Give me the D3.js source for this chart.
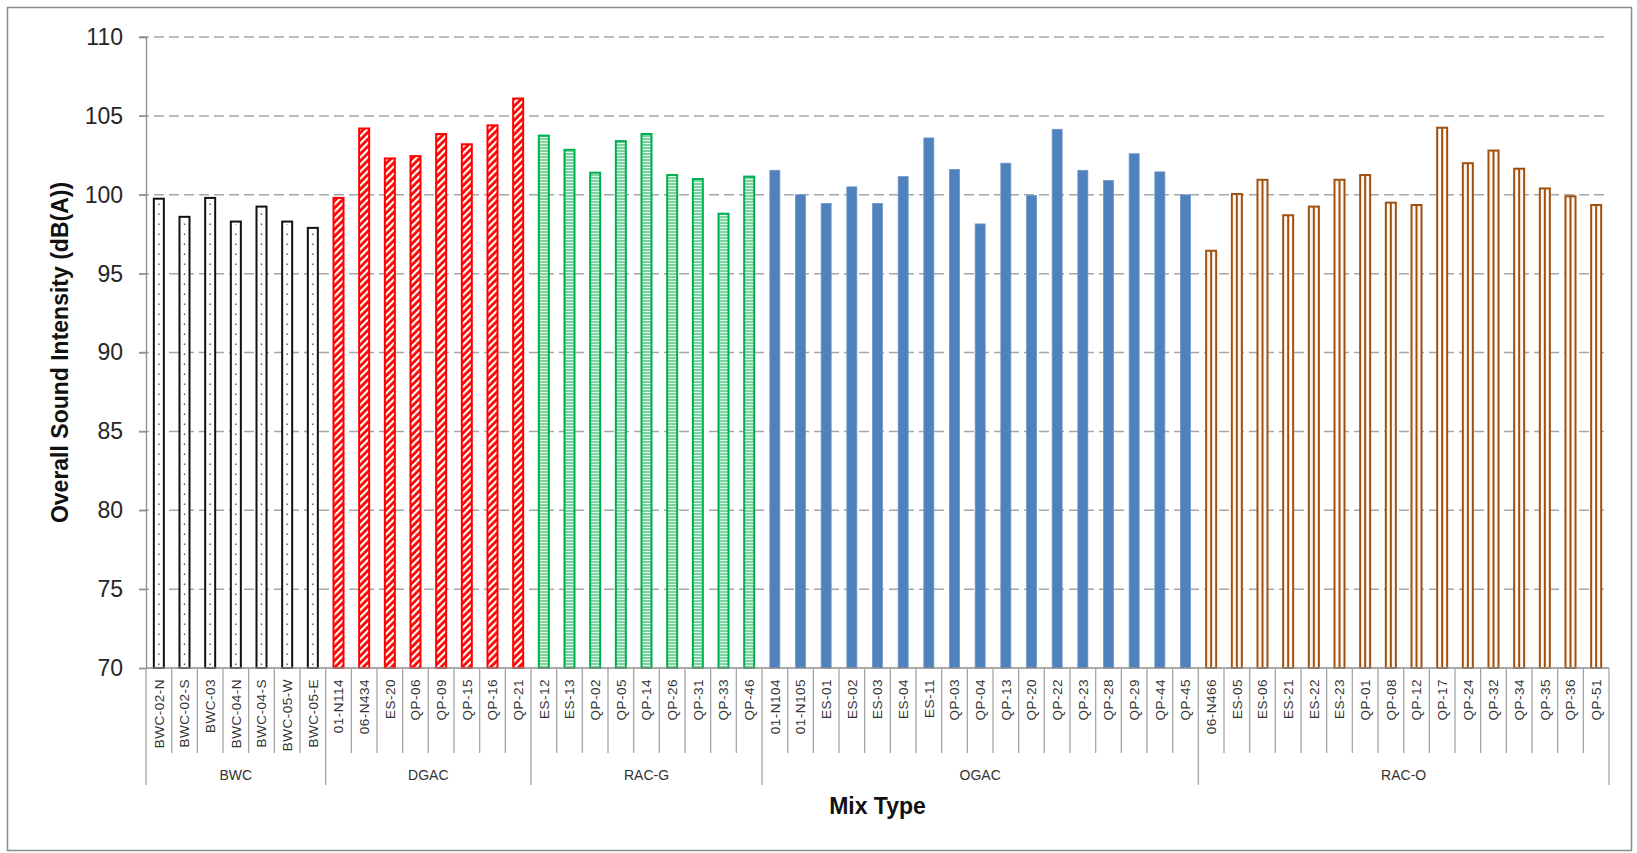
<!DOCTYPE html>
<html>
<head>
<meta charset="utf-8">
<script src="https://cdn.jsdelivr.net/npm/d3@7/dist/d3.min.js"></script>
<style>
  html, body { margin: 0; padding: 0; background: #fff; }
  svg { display: block; }
</style>
</head>
<body>
<svg id="chart" width="1637" height="853"></svg>
<script>
// ---------------- DATA ----------------
const groupNames = ["BWC", "DGAC", "RAC-G", "OGAC", "RAC-O"];

const bwcLabels = ["BWC-02-N", "BWC-02-S", "BWC-03", "BWC-04-N", "BWC-04-S", "BWC-05-W", "BWC-05-E"];
const bwcValues = [99.75, 98.6, 99.8, 98.3, 99.25, 98.3, 97.9];

const dgacLabels = ["01-N114", "06-N434", "ES-20", "QP-06", "QP-09", "QP-15", "QP-16", "QP-21"];
const dgacValues = [99.8, 104.2, 102.3, 102.45, 103.85, 103.2, 104.4, 106.1];

const racgLabels = ["ES-12", "ES-13", "QP-02", "QP-05", "QP-14", "QP-26", "QP-31", "QP-33", "QP-46"];
const racgValues = [103.75, 102.85, 101.4, 103.4, 103.85, 101.25, 101.0, 98.8, 101.15];

const ogacLabels = ["01-N104", "01-N105", "ES-01", "ES-02", "ES-03", "ES-04", "ES-11", "QP-03", "QP-04",
                    "QP-13", "QP-20", "QP-22", "QP-23", "QP-28", "QP-29", "QP-44", "QP-45"];
const ogacValues = [101.55, 100.0, 99.45, 100.5, 99.45, 101.15, 103.6, 101.6, 98.15,
                    102.0, 99.95, 104.15, 101.55, 100.9, 102.6, 101.45, 100.0];

const racoLabels = ["06-N466", "ES-05", "ES-06", "ES-21", "ES-22", "ES-23", "QP-01", "QP-08", "QP-12",
                    "QP-17", "QP-24", "QP-32", "QP-34", "QP-35", "QP-36", "QP-51"];
const racoValues = [96.45, 100.05, 100.95, 98.7, 99.25, 100.95, 101.25, 99.5, 99.35,
                    104.25, 102.0, 102.8, 101.65, 100.4, 99.9, 99.35];

const yTicks = [70, 75, 80, 85, 90, 95, 100, 105, 110];
const yTitle = "Overall Sound Intensity (dB(A))";
const xTitle = "Mix Type";

// ---------------- BUILD ----------------
const groupLabels = [bwcLabels, dgacLabels, racgLabels, ogacLabels, racoLabels];
const groupValues = [bwcValues, dgacValues, racgValues, ogacValues, racoValues];
const rows = [];
groupNames.forEach((g, gi) => {
  groupLabels[gi].forEach((lab, i) => {
    rows.push({ group: g, label: lab, value: groupValues[gi][i], key: g + "|" + lab });
  });
});

const svg = d3.select("#chart");
const W = 1637, H = 853;
const plot = { left: 146, right: 1609, top: 37, bottom: 668 };

const x = d3.scaleBand()
  .domain(rows.map(d => d.key))
  .range([plot.left, plot.right])
  .paddingInner(0.61)
  .paddingOuter(0.305);

const y = d3.scaleLinear()
  .domain([70, 110])
  .range([plot.bottom, plot.top]);

// outer border
svg.append("rect")
  .attr("x", 7.5).attr("y", 7.5)
  .attr("width", 1624).attr("height", 843)
  .attr("fill", "#fff")
  .attr("stroke", "#8c8c8c")
  .attr("stroke-width", 1.5);

// patterns
const defs = svg.append("defs");
const pDg = defs.append("pattern")
  .attr("id", "pDGAC")
  .attr("patternUnits", "userSpaceOnUse")
  .attr("width", 5).attr("height", 5)
  .attr("patternTransform", "rotate(45)");
pDg.append("rect").attr("width", 5).attr("height", 5).attr("fill", "#ff0000");
pDg.append("rect").attr("x", 0).attr("width", 2.2).attr("height", 5).attr("fill", "#ffffff");

const pRg = defs.append("pattern")
  .attr("id", "pRACG")
  .attr("patternUnits", "userSpaceOnUse")
  .attr("width", 4).attr("height", 3);
pRg.append("rect").attr("width", 4).attr("height", 3).attr("fill", "#7dd3a0");
pRg.append("rect").attr("y", 2).attr("width", 4).attr("height", 1).attr("fill", "#e4f6eb");

// gridlines (dashed)
svg.append("g")
  .selectAll("line")
  .data(yTicks.filter(t => t !== 70))
  .join("line")
  .attr("x1", plot.left - 7).attr("x2", plot.right)
  .attr("y1", d => y(d)).attr("y2", d => y(d))
  .attr("stroke", "#a6a6a6")
  .attr("stroke-width", 1.5)
  .attr("stroke-dasharray", "10,5");

// bars
const styles = {
  "BWC":   { fill: "#ffffff", stroke: "#111111", sw: 2 },
  "DGAC":  { fill: "url(#pDGAC)", stroke: "#ff0000", sw: 2 },
  "RAC-G": { fill: "url(#pRACG)", stroke: "#00b050", sw: 2 },
  "OGAC":  { fill: "#4f81bd", stroke: "#6f97c8", sw: 0.8 },
  "RAC-O": { fill: "#fdf8f3", stroke: "#a0500f", sw: 2 }
};

const barG = svg.append("g");
barG.selectAll("rect")
  .data(rows)
  .join("rect")
  .attr("x", d => x(d.key))
  .attr("y", d => y(d.value))
  .attr("width", x.bandwidth())
  .attr("height", d => y(70) - y(d.value))
  .attr("fill", d => styles[d.group].fill)
  .attr("stroke", d => styles[d.group].stroke)
  .attr("stroke-width", d => styles[d.group].sw);

// BWC dotted centre
barG.append("g").selectAll("line")
  .data(rows.filter(d => d.group === "BWC"))
  .join("line")
  .attr("x1", d => x(d.key) + x.bandwidth() / 2)
  .attr("x2", d => x(d.key) + x.bandwidth() / 2)
  .attr("y1", d => y(70) - 3)
  .attr("y2", d => y(d.value) + 3)
  .attr("stroke", "#555")
  .attr("stroke-width", 1.4)
  .attr("stroke-dasharray", "1.4,8.6");

// RAC-O vertical centre line
barG.append("g").selectAll("line")
  .data(rows.filter(d => d.group === "RAC-O"))
  .join("line")
  .attr("x1", d => x(d.key) + x.bandwidth() / 2)
  .attr("x2", d => x(d.key) + x.bandwidth() / 2)
  .attr("y1", d => y(70))
  .attr("y2", d => y(d.value))
  .attr("stroke", "#a0500f")
  .attr("stroke-width", 2);

// y axis
const yAxis = d3.axisLeft(y).tickValues(yTicks).tickSize(7).tickPadding(16);
const yg = svg.append("g").attr("transform", `translate(${plot.left},0)`).call(yAxis);
yg.select(".domain").attr("stroke", "#8c8c8c").attr("stroke-width", 1.3);
yg.selectAll(".tick line").attr("stroke", "#8c8c8c").attr("stroke-width", 1.3);
yg.selectAll(".tick text")
  .attr("font-family", "'Liberation Sans', Arial, sans-serif")
  .attr("font-size", 23)
  .attr("fill", "#262626");

// x axis baseline
svg.append("line")
  .attr("x1", plot.left).attr("x2", plot.right)
  .attr("y1", plot.bottom).attr("y2", plot.bottom)
  .attr("stroke", "#8c8c8c").attr("stroke-width", 1.3);

// category separators
const step = x.step();
const catEdges = rows.map(d => x(d.key) - x.paddingInner() * step / 2);
catEdges.push(plot.right);
// group boundaries
const groupStartIdx = [];
let acc = 0;
groupLabels.forEach(g => { groupStartIdx.push(acc); acc += g.length; });
groupStartIdx.push(acc);

svg.append("g").selectAll("line")
  .data(catEdges.map((e, i) => ({ e, isGroup: groupStartIdx.includes(i) })))
  .join("line")
  .attr("x1", d => d.e).attr("x2", d => d.e)
  .attr("y1", plot.bottom)
  .attr("y2", d => d.isGroup ? 785 : 753)
  .attr("stroke", "#a6a6a6")
  .attr("stroke-width", 1.3);

// category labels
svg.append("g").selectAll("text")
  .data(rows)
  .join("text")
  .attr("transform", d => `translate(${x(d.key) + x.bandwidth() / 2},679) rotate(-90)`)
  .attr("text-anchor", "end")
  .attr("dy", "0.36em")
  .attr("font-family", "'Liberation Sans', Arial, sans-serif")
  .attr("font-size", 13.5)
  .attr("letter-spacing", 0.5)
  .attr("fill", "#333")
  .text(d => d.label);

// group labels
svg.append("g").selectAll("text")
  .data(groupNames.map((g, i) => ({ g, a: catEdges[groupStartIdx[i]], b: catEdges[groupStartIdx[i + 1]] })))
  .join("text")
  .attr("x", d => (d.a + d.b) / 2)
  .attr("y", 780)
  .attr("text-anchor", "middle")
  .attr("font-family", "'Liberation Sans', Arial, sans-serif")
  .attr("font-size", 14)
  .attr("fill", "#333")
  .text(d => d.g);

// axis titles
svg.append("text")
  .attr("x", (plot.left + plot.right) / 2)
  .attr("y", 814)
  .attr("text-anchor", "middle")
  .attr("font-family", "'Liberation Sans', Arial, sans-serif")
  .attr("font-weight", "bold")
  .attr("font-size", 23)
  .attr("fill", "#111")
  .text(xTitle);

svg.append("text")
  .attr("transform", `translate(60,${(plot.top + plot.bottom) / 2}) rotate(-90)`)
  .attr("text-anchor", "middle")
  .attr("dy", "0.35em")
  .attr("font-family", "'Liberation Sans', Arial, sans-serif")
  .attr("font-weight", "bold")
  .attr("font-size", 23)
  .attr("fill", "#111")
  .text(yTitle);
</script>
</body>
</html>
